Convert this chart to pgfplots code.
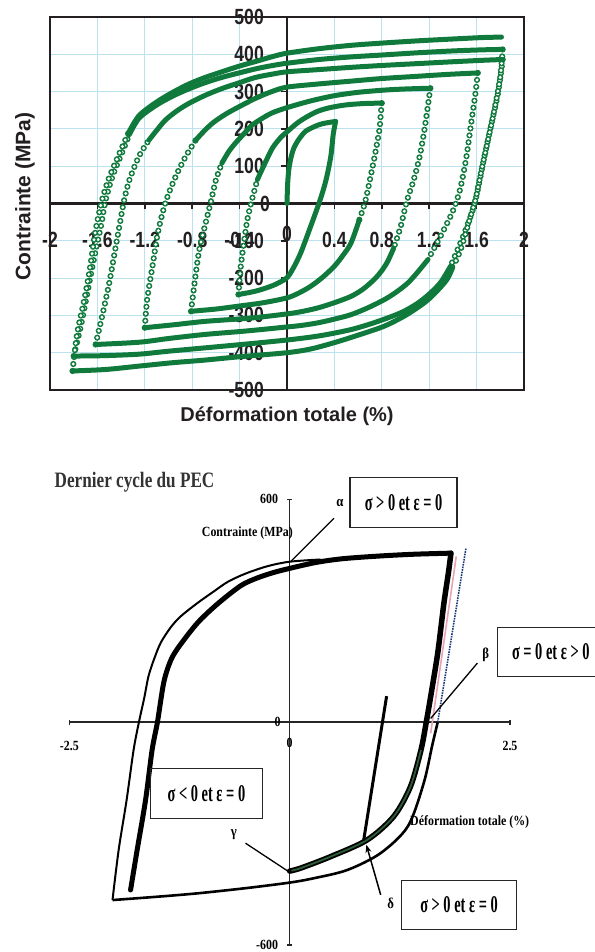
\documentclass[border=0pt]{standalone}
\usepackage{fontspec}
\setmainfont{Liberation Sans}
\newfontfamily\tickfont[FakeStretch=0.8]{Liberation Sans}
\newfontfamily\boxfont[FakeStretch=0.6]{Liberation Serif}
\newfontfamily\smallserif[FakeStretch=0.85]{Liberation Serif}
\newfontfamily\titlefont[FakeStretch=0.78]{Liberation Serif}
\usepackage{pgfplots}
\pgfplotsset{compat=1.18}
\usetikzlibrary{arrows.meta}
\definecolor{pgreen}{HTML}{0F7A3C}
\definecolor{gridblue}{HTML}{BDE2EF}
\definecolor{axdark}{HTML}{231F20}
\definecolor{navyd}{HTML}{1F3A7A}
\definecolor{pinkl}{HTML}{E9A3B5}
\definecolor{dgreen}{HTML}{2E5E38}

\pgfplotsset{
  pl/.style={pgreen, line width=5pt, smooth, line cap=round, line join=round, mark=none},
  % open circles along the elastic parts: green dots with a white core
  el/.style={white, smooth, mark=none, line width=3.3pt, line cap=round, dash pattern=on 0pt off 7pt,
    preaction={draw=pgreen, line width=6.2pt, line cap=round, dash pattern=on 0pt off 7pt}},
}
\tikzset{
  boxst/.style={draw=black!85, line width=1.3pt, inner sep=0pt, font=\boxfont\bfseries\fontsize{24}{24}\selectfont},
  greek/.style={font=\smallserif\bfseries\fontsize{15}{15}\selectfont},
  toptick/.style={font=\tickfont\bfseries\fontsize{22}{22}\selectfont, text=axdark, inner sep=0pt},
  bottick/.style={font=\smallserif\bfseries\fontsize{14}{14}\selectfont, inner sep=0pt},
}

\begin{document}
\begin{tikzpicture}
\useasboundingbox (0pt,0pt) rectangle (594pt,952pt);

% ---- top: cyclic test, all loops
\begin{axis}[at={(50pt,562pt)}, anchor=south west, scale only axis, width=474pt, height=373pt,
  xmin=-2, xmax=2, ymin=-500, ymax=500,
  axis lines=middle, axis line style={axdark, line width=2.6pt, -},
  every inner x axis line/.append style={-}, every inner y axis line/.append style={-},
  xtick={-2,-1.6,-1.2,-0.8,-0.4,0,0.4,0.8,1.2,1.6,2},
  xticklabels={-2,-1.6,-1.2,-0.8,-0.4,0,0.4,0.8,1.2,1.6,2},
  ytick={-500,-400,-300,-200,-100,0,100,200,300,400,500},
  yticklabels={-500,-400,-300,-200,-100,0,100,200,300,400,500},
  tick style={axdark, line width=1.6pt}, major tick length=6pt, tick align=outside,
  grid=major, grid style={gridblue, line width=1.1pt},
  tick label style={toptick},
  xticklabel style={anchor=center, yshift=-30pt},
  yticklabel style={anchor=east, xshift=-17pt},
  xlabel={Déformation totale (\%)}, ylabel={Contrainte (MPa)},
  every axis x label/.style={at={(rel axis cs:0.5,0)}, anchor=center, yshift=-26pt, text=axdark, font=\bfseries\fontsize{20}{20}\selectfont},
  every axis y label/.style={at={(rel axis cs:0,0.5)}, anchor=center, rotate=90, yshift=25pt, xshift=7pt, text=axdark, font=\bfseries\fontsize{21}{21}\selectfont},
  after end axis/.code={\draw[axdark, line width=2.6pt] (rel axis cs:0,0) rectangle (rel axis cs:1,1);},
]
% elastic parts (open circles)
\addplot[el] coordinates {(-0.41,-244) (-0.39,-168) (-0.36,-97) (-0.335,-44) (-0.30,5) (-0.25,64)};
\addplot[el] coordinates {(0.80,269) (0.79,235) (0.78,198) (0.74,127) (0.70,64) (0.66,5) (0.61,-44)};
\addplot[el] coordinates {(-0.81,-289) (-0.78,-213) (-0.74,-124) (-0.68,-44) (-0.64,8) (-0.60,63) (-0.55,108)};
\addplot[el] coordinates {(1.21,309) (1.20,287) (1.16,198) (1.12,127) (1.07,64) (1.01,5) (0.96,-61) (0.90,-120)};
\addplot[el] coordinates {(-1.20,-333) (-1.18,-257) (-1.135,-168) (-1.09,-79) (-1.025,3) (-0.94,72) (-0.855,126) (-0.77,170)};
\addplot[el] coordinates {(1.61,350) (1.59,295) (1.55,206) (1.51,117) (1.46,37) (1.40,-20) (1.30,-85) (1.19,-150)};
\addplot[el] coordinates {(-1.615,-378) (-1.56,-302) (-1.50,-213) (-1.45,-124) (-1.405,-44) (-1.375,8) (-1.33,63) (-1.25,126) (-1.165,170)};
\addplot[el] coordinates {(1.82,386) (1.78,295) (1.72,206) (1.66,117) (1.61,37) (1.57,-15) (1.49,-85) (1.38,-168)};
\addplot[el] coordinates {(-1.80,-409) (-1.74,-329) (-1.685,-240) (-1.63,-150) (-1.57,-61) (-1.53,10) (-1.47,75) (-1.40,130) (-1.33,185)};
\addplot[el] coordinates {(1.82,413) (1.80,340) (1.75,251) (1.69,161) (1.63,72) (1.59,10) (1.54,-44) (1.465,-124) (1.40,-170)};
\addplot[el] coordinates {(-1.81,-449) (-1.77,-347) (-1.71,-257) (-1.66,-168) (-1.62,-79) (-1.56,10) (-1.50,70) (-1.42,130) (-1.34,188)};
% first loading and plastic parts (dense points)
\addplot[pl] coordinates {(0,0) (0.005,50) (0.015,90) (0.035,125) (0.06,150) (0.1,172) (0.155,193) (0.23,206) (0.30,214) (0.41,220)};
\addplot[pl] coordinates {(0.41,220) (0.39,185) (0.37,127) (0.33,64) (0.28,10) (0.20,-61) (0.115,-133) (0.05,-175) (0,-199) (-0.06,-211) (-0.12,-220) (-0.2,-229) (-0.265,-235) (-0.34,-240) (-0.41,-244)};
\addplot[pl] coordinates {(-0.25,64) (-0.18,112) (-0.12,150) (-0.05,178) (0,192) (0.08,214) (0.155,230) (0.25,246) (0.35,256) (0.49,264) (0.65,268) (0.80,269)};
\addplot[pl] coordinates {(0.61,-44) (0.54,-106) (0.47,-140) (0.40,-168) (0.30,-198) (0.20,-222) (0.10,-240) (0,-253) (-0.2,-266) (-0.405,-275) (-0.6,-283) (-0.81,-289)};
\addplot[pl] coordinates {(-0.55,108) (-0.49,140) (-0.435,162) (-0.36,188) (-0.295,210) (-0.2,230) (-0.125,243) (0,257) (0.2,275) (0.40,289) (0.6,298) (0.82,304) (1.0,307) (1.21,309)};
\addplot[pl] coordinates {(0.90,-120) (0.85,-155) (0.80,-180) (0.735,-204) (0.64,-230) (0.54,-249) (0.40,-266) (0.26,-280) (0.12,-290) (0,-296) (-0.3,-307) (-0.69,-316) (-0.95,-325) (-1.20,-333)};
\addplot[pl] coordinates {(-0.77,170) (-0.70,194) (-0.63,215) (-0.55,233) (-0.46,250) (-0.265,282) (-0.12,301) (0,312) (0.25,320) (0.54,328) (0.8,335) (1.10,341) (1.35,346) (1.61,350)};
\addplot[pl] coordinates {(1.19,-150) (1.10,-185) (1.02,-213) (0.92,-238) (0.82,-258) (0.68,-280) (0.54,-298) (0.40,-310) (0.26,-320) (0.12,-327) (0,-331) (-0.35,-342) (-0.69,-351) (-1.0,-362) (-1.25,-372) (-1.615,-378)};
\addplot[pl] coordinates {(-1.165,170) (-1.10,196) (-1.025,224) (-0.93,248) (-0.83,268) (-0.69,290) (-0.55,308) (-0.40,324) (-0.265,338) (-0.12,347) (0,353) (0.27,359) (0.54,365) (0.8,370) (1.10,375) (1.4,380) (1.66,384) (1.82,386)};
\addplot[pl] coordinates {(1.38,-168) (1.30,-210) (1.21,-240) (1.10,-268) (0.96,-293) (0.75,-318) (0.54,-338) (0.27,-355) (0,-366) (-0.35,-377) (-0.69,-387) (-1.0,-396) (-1.25,-404) (-1.55,-408) (-1.80,-409)};
\addplot[pl] coordinates {(-1.33,185) (-1.25,228) (-1.11,262) (-0.97,287) (-0.83,307) (-0.69,324) (-0.55,338) (-0.405,350) (-0.25,362) (-0.12,370) (0,376) (0.27,386) (0.54,393) (0.8,398) (1.10,404) (1.4,409) (1.66,412) (1.82,413)};
\addplot[pl] coordinates {(1.40,-170) (1.35,-204) (1.25,-240) (1.16,-266) (1.0,-300) (0.82,-329) (0.60,-353) (0.40,-373) (0.2,-390) (0,-400) (-0.405,-411) (-0.7,-420) (-0.97,-427) (-1.25,-436) (-1.53,-445) (-1.81,-449)};
\addplot[pl] coordinates {(-1.34,188) (-1.25,235) (-1.11,270) (-0.97,297) (-0.83,320) (-0.69,338) (-0.55,353) (-0.405,368) (-0.25,382) (-0.12,394) (0,403) (0.27,415) (0.54,424) (0.8,430) (1.10,436) (1.4,441) (1.66,445) (1.81,446)};
% the zero labels, hidden by pgfplots where the axes cross
\node[toptick, anchor=east, xshift=-17pt] at (axis cs:0,0) {0};
\node[toptick, anchor=center, yshift=-30pt] at (axis cs:0,0) {0};
\end{axis}

% ---- bottom: last cycle
\begin{axis}[at={(69.3pt,7pt)}, anchor=south west, scale only axis, width=440.7pt, height=445.7pt,
  xmin=-2.5, xmax=2.5, ymin=-600, ymax=600, clip=false,
  axis lines=middle, axis line style={black!85, line width=1.4pt, -},
  every inner x axis line/.append style={-}, every inner y axis line/.append style={-},
  xtick={-2.5,0,2.5}, xticklabels={-2.5,0,2.5},
  ytick={-600,0,600}, yticklabels={-600,0,600},
  tick style={black!85, line width=1.4pt}, major tick length=5pt,
  tick label style={bottick},
  xticklabel style={anchor=center, yshift=-21pt},
  yticklabel style={anchor=east, xshift=-9pt},
  title={Dernier cycle du PEC},
  every axis title/.style={at={(rel axis cs:0.148,1.039)}, anchor=center, text=black!80, font=\titlefont\bfseries\fontsize{22}{22}\selectfont},
  xlabel={Déformation totale (\%)}, ylabel={Contrainte (MPa)},
  every axis x label/.style={at={(rel axis cs:0.9086,0.2767)}, anchor=center, font=\smallserif\bfseries\fontsize{14}{14}\selectfont},
  every axis y label/.style={at={(rel axis cs:0.404,0.925)}, anchor=center, font=\smallserif\bfseries\fontsize{14}{14}\selectfont},
]
% outer thin loop
\addplot[black, line width=2pt, smooth, mark=none] coordinates {(0.35,438) (0,432) (-0.25,420) (-0.5,400) (-0.7,378) (-0.86,352) (-1.05,320) (-1.24,284) (-1.35,255) (-1.46,215) (-1.53,175) (-1.60,125) (-1.65,65) (-1.71,0) (-1.77,-74) (-1.85,-210) (-1.94,-344) (-2.01,-479)};
\addplot[black, line width=2.6pt, smooth, mark=none] coordinates {(-2.01,-479) (-1.5,-470) (-1.05,-461) (-0.5,-447) (0,-432) (0.28,-420) (0.655,-398) (1.03,-353) (1.34,-281) (1.52,-165) (1.62,-60) (1.68,0)};
\addplot[navyd, line width=1.6pt, densely dotted, mark=none] coordinates {(1.68,0) (2.0,468)};
\addplot[pinkl, line width=1.6pt, mark=none] coordinates {(1.60,-30) (1.89,446)};
% thick inner loop
\addplot[black, line width=5pt, smooth, line cap=round, mark=none] coordinates {(-1.805,-452) (-1.73,-344) (-1.635,-210) (-1.56,-74) (-1.50,0) (-1.43,105) (-1.36,160) (-1.275,197) (-1.05,266) (-0.82,318) (-0.557,367) (-0.37,388) (-0.18,403) (0,414) (0.3,430) (0.6,440) (1.0,447) (1.4,452) (1.83,455)};
\addplot[black, line width=5.5pt, smooth, line cap=round, mark=none] coordinates {(1.83,455) (1.80,400) (1.75,320) (1.68,186) (1.60,69) (1.55,0) (1.49,-75) (1.37,-174) (1.18,-254) (0.88,-317) (0.465,-362) (0.125,-393) (0,-401)};
\addplot[dgreen, line width=1.8pt, smooth, mark=none] coordinates {(1.49,-75) (1.37,-174) (1.18,-254) (0.88,-317) (0.465,-362) (0.125,-393) (0.02,-400)};
\addplot[black, line width=3pt, mark=none] coordinates {(1.10,70) (0.84,-318)};
% pointers
\addplot[black, line width=1.3pt, mark=none] coordinates {(0.503,549) (0.011,432)};
\addplot[black, line width=1.3pt, mark=none] coordinates {(2.13,159) (1.60,10)};
\addplot[black, line width=1.3pt, mark=none] coordinates {(-0.50,-326) (-0.008,-403)};
\addplot[black, line width=1.5pt, mark=none, -{Stealth[length=8pt,width=6pt]}] coordinates {(1.033,-465) (0.87,-330)};
% zero labels
\node[bottick, anchor=east, xshift=-9pt] at (axis cs:0,0) {0};
\node[bottick, anchor=center, yshift=-21pt] at (axis cs:0,0) {0};
% labels and boxes
\node[greek] at (axis cs:0.571,590) {α};
\node[greek] at (axis cs:2.225,181) {β};
\node[greek] at (axis cs:-0.632,-304) {γ};
\node[greek] at (axis cs:1.146,-488) {δ};
\node[boxst, minimum width=107pt, minimum height=50pt] at (axis cs:1.293,592) {σ > 0 et ε = 0};
\node[boxst, minimum width=107pt, minimum height=49pt] at (axis cs:2.963,189) {σ = 0 et ε > 0};
\node[boxst, minimum width=112pt, minimum height=50pt] at (axis cs:-0.944,-193) {σ < 0 et ε = 0};
\node[boxst, minimum width=115pt, minimum height=49pt] at (axis cs:1.922,-491.5) {σ > 0 et ε = 0};
\end{axis}
\end{tikzpicture}
\end{document}
